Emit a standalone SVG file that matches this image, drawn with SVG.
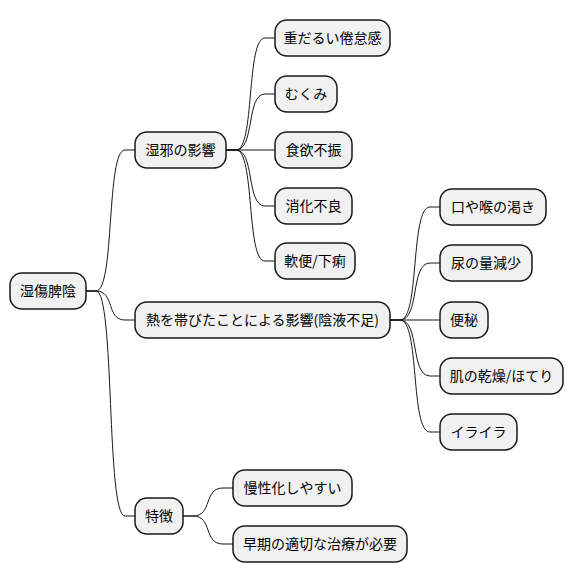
<svg xmlns="http://www.w3.org/2000/svg" width="574" height="583" viewBox="0 0 574 583">
<style>
.n rect{fill:#F1F1F1;stroke:#181818;stroke-width:1.5}
.n text{font-family:"Noto Sans CJK JP","Noto Sans",sans-serif;font-size:14px;fill:#000;text-anchor:middle}
#connectors path{fill:none;stroke:#181818;stroke-width:1}
</style>
<rect width="574" height="583" fill="#FFFFFF"/>
<g id="connectors">
<path d="M86,291 L96,291 C115,291 106,150 125,150 L135,150"/>
<path d="M86,291 L96,291 C115,291 106,320 125,320 L135,320"/>
<path d="M86,291 L96,291 C115,291 106,516 125,516 L135,516"/>
<path d="M226,150 L236,150 C255,150 246,38 265,38 L275,38"/>
<path d="M226,150 L236,150 C255,150 246,94 265,94 L275,94"/>
<path d="M226,150 L236,150 L275,150"/>
<path d="M226,150 L236,150 C255,150 246,206 265,206 L275,206"/>
<path d="M226,150 L236,150 C255,150 246,261 265,261 L275,261"/>
<path d="M390,320 L400,320 C420,320 410,207 430,207 L440,207"/>
<path d="M390,320 L400,320 C420,320 410,263 430,263 L440,263"/>
<path d="M390,320 L440,320"/>
<path d="M390,320 L400,320 C420,320 410,376 430,376 L440,376"/>
<path d="M390,320 L400,320 C420,320 410,432 430,432 L440,432"/>
<path d="M183,516 L193,516 C213,516 203,488 223,488 L233,488"/>
<path d="M183,516 L193,516 C213,516 203,544 223,544 L233,544"/>
</g>
<g id="root" class="n"><rect x="10" y="273" width="76" height="36" rx="12"/><text x="48" y="296">湿傷脾陰</text></g>
<g id="n1" class="n"><rect x="135" y="132" width="91" height="36" rx="12"/><text x="180.5" y="155">湿邪の影響</text></g>
<g id="n2" class="n"><rect x="135" y="302" width="255" height="36" rx="12"/><text x="262.5" y="325">熱を帯びたことによる影響(陰液不足)</text></g>
<g id="n3" class="n"><rect x="135" y="498" width="48" height="36" rx="12"/><text x="159" y="521">特徴</text></g>
<g id="n1a" class="n"><rect x="275" y="20" width="115" height="36" rx="12"/><text x="332.5" y="43">重だるい倦怠感</text></g>
<g id="n1b" class="n"><rect x="275" y="76" width="62" height="36" rx="12"/><text x="306" y="99">むくみ</text></g>
<g id="n1c" class="n"><rect x="275" y="132" width="77" height="36" rx="12"/><text x="313.5" y="155">食欲不振</text></g>
<g id="n1d" class="n"><rect x="275" y="188" width="77" height="36" rx="12"/><text x="313.5" y="211">消化不良</text></g>
<g id="n1e" class="n"><rect x="275" y="243" width="80" height="36" rx="12"/><text x="315" y="266">軟便/下痢</text></g>
<g id="n2a" class="n"><rect x="440" y="189" width="106" height="36" rx="12"/><text x="493" y="212">口や喉の渇き</text></g>
<g id="n2b" class="n"><rect x="440" y="245" width="92" height="36" rx="12"/><text x="486" y="268">尿の量減少</text></g>
<g id="n2c" class="n"><rect x="440" y="302" width="48" height="36" rx="12"/><text x="464" y="325">便秘</text></g>
<g id="n2d" class="n"><rect x="440" y="358" width="123" height="36" rx="12"/><text x="501.5" y="381">肌の乾燥/ほてり</text></g>
<g id="n2e" class="n"><rect x="440" y="414" width="77" height="36" rx="12"/><text x="478.5" y="437">イライラ</text></g>
<g id="n3a" class="n"><rect x="233" y="470" width="119" height="36" rx="12"/><text x="292.5" y="493">慢性化しやすい</text></g>
<g id="n3b" class="n"><rect x="233" y="526" width="174" height="36" rx="12"/><text x="320" y="549">早期の適切な治療が必要</text></g>
</svg>
